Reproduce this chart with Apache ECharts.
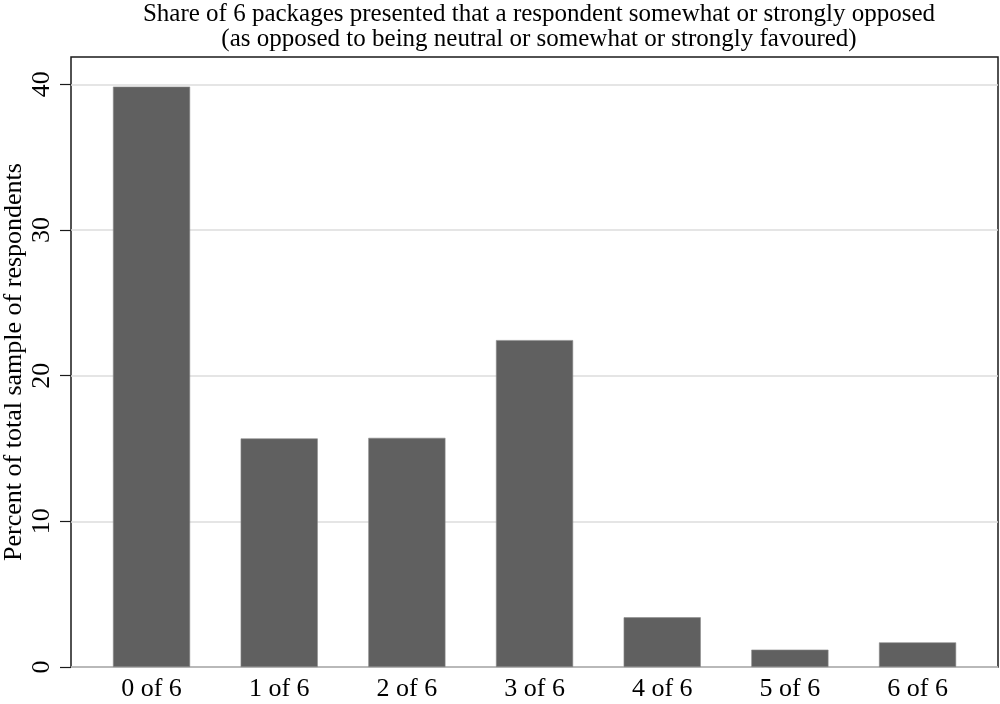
<!DOCTYPE html>
<html>
<head>
<meta charset="utf-8">
<script src="https://cdn.jsdelivr.net/npm/echarts@6/dist/echarts.min.js"></script>
<style>html,body{margin:0;padding:0;background:#fff}#c{width:1000px;height:704px}</style>
</head>
<body>
<div id="c"></div>
<script>
const titleLines = ['Share of 6 packages presented that a respondent somewhat or strongly opposed', '(as opposed to being neutral or somewhat or strongly favoured)'];
const yAxisTitle = 'Percent of total sample of respondents';
const categories = ['0 of 6', '1 of 6', '2 of 6', '3 of 6', '4 of 6', '5 of 6', '6 of 6'];
const percents = [39.84, 15.69, 15.73, 22.44, 3.41, 1.19, 1.69];
const yTicks = [0, 10, 20, 30, 40];

const FONT = 'Liberation Serif';
const chart = echarts.init(document.getElementById('c'), null, {renderer: 'canvas'});
chart.setOption({
  backgroundColor: '#ffffff',
  animation: false,
  title: {
    text: titleLines.join('\n'),
    left: 534, textAlign: 'center', top: -3,
    textStyle: {fontFamily: FONT, fontSize: 25, fontWeight: 'normal', color: '#000', lineHeight: 25}
  },
  grid: [
    {left: 71, right: 2, top: 57, bottom: 37, show: true, borderColor: '#1a1a1a', borderWidth: 1.5, backgroundColor: 'transparent', containLabel: false, outerBoundsMode: 'none'},
    {left: 71, right: 2, top: 84.3, bottom: 37, containLabel: false, outerBoundsMode: 'none'},
    {left: 87.7, width: 893.7, top: 84.3, bottom: 37, containLabel: false, outerBoundsMode: 'none'}
  ],
  xAxis: [
    {gridIndex: 0, type: 'value', show: false, min: 0, max: 1},
    {gridIndex: 1, type: 'value', show: false, min: 0, max: 1},
    {gridIndex: 2, type: 'category', data: categories, boundaryGap: true,
     axisLine: {show: false}, axisTick: {show: false},
     axisLabel: {fontFamily: FONT, fontSize: 26, color: '#000', margin: 9}}
  ],
  yAxis: [
    {gridIndex: 0, type: 'value', min: 0, max: 1, name: yAxisTitle, nameLocation: 'middle', nameGap: 44,
     nameTextStyle: {fontFamily: FONT, fontSize: 26, color: '#000'},
     axisLine: {show: false}, axisTick: {show: false}, axisLabel: {show: false}, splitLine: {show: false}},
    {gridIndex: 1, type: 'value', min: yTicks[0], max: yTicks[yTicks.length - 1], interval: 10,
     axisLine: {show: false},
     axisTick: {show: true, length: 11, lineStyle: {color: '#1a1a1a', width: 1.2}},
     axisLabel: {fontFamily: FONT, fontSize: 26, color: '#000', rotate: 90, margin: 16},
     splitLine: {show: true, lineStyle: {color: '#dcdcdc', width: 1.5}}},
    {gridIndex: 2, type: 'value', min: yTicks[0], max: yTicks[yTicks.length - 1], show: false}
  ],
  series: [{
    type: 'bar', xAxisIndex: 2, yAxisIndex: 2, data: percents,
    barCategoryGap: '39.6%',
    itemStyle: {color: '#606060', borderColor: '#8a8a8a', borderWidth: 0.6}
  }]
});
</script>
</body>
</html>
